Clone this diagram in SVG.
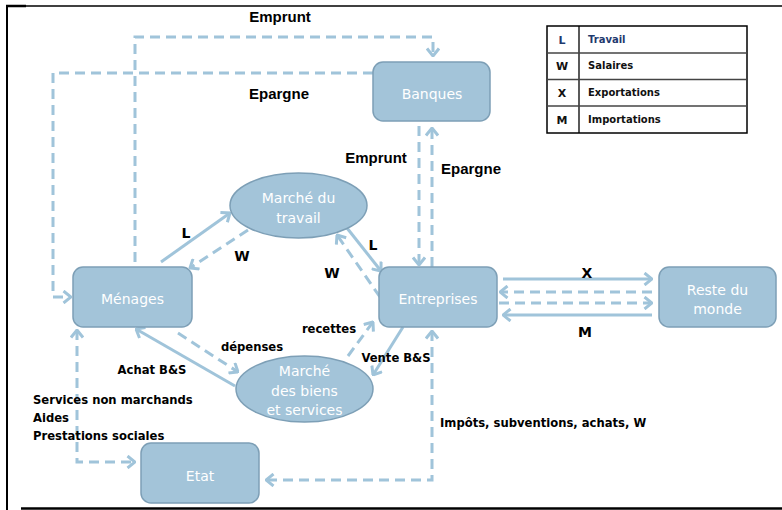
<svg xmlns="http://www.w3.org/2000/svg" width="782" height="510" viewBox="0 0 782 510">
<style>
.node{fill:#a3c4d9;stroke:#7d9fb6;stroke-width:1.5}
.nt{font-family:"DejaVu Sans",sans-serif;font-size:14px;fill:#ffffff;text-anchor:middle}
.c{fill:none;stroke:#a0c4da;stroke-width:3}
.d{stroke-dasharray:10 6}
.lbl{font-family:"DejaVu Sans",sans-serif;font-weight:bold;font-size:11.6px;fill:#000}
.big{font-family:"Liberation Sans",Arial,sans-serif;font-weight:bold;font-size:15px;fill:#000}
.ltr{font-family:"DejaVu Sans",sans-serif;font-weight:bold;font-size:14px;fill:#000}
.lg{font-family:"DejaVu Sans",sans-serif;font-weight:bold;font-size:10px;fill:#111}
</style>
<defs>
<marker id="ar" viewBox="0 0 10 14" refX="9" refY="7" markerWidth="10" markerHeight="14" markerUnits="userSpaceOnUse" orient="auto-start-reverse">
<path d="M1.5,1 L9,7 L1.5,13" fill="none" stroke="#a0c4da" stroke-width="3" stroke-dasharray="none"/>
</marker>
</defs>
<rect x="0" y="0" width="782" height="510" fill="#ffffff"/>
<g id="border" stroke="#000" fill="none">
<line x1="7" y1="6" x2="782" y2="6" stroke-width="1.5"/>
<line x1="6" y1="6" x2="26" y2="6" stroke-width="2.5"/>
<line x1="7" y1="5" x2="7" y2="510" stroke-width="2"/>
<line x1="21" y1="508.5" x2="782" y2="508.5" stroke-width="2.5"/>
</g>
<g id="connectors">
<path class="c d" d="M135,262 V37 H433 V56" marker-end="url(#ar)"/>
<path class="c d" d="M373,73 H53 V297 H71" marker-end="url(#ar)"/>
<path class="c d" d="M419,126 V265" marker-end="url(#ar)"/>
<path class="c d" d="M432,267 V128" marker-end="url(#ar)"/>
<path class="c" d="M161,262 L230,213" marker-end="url(#ar)"/>
<path class="c d" d="M248,230 L190,268" marker-end="url(#ar)"/>
<path class="c" d="M347,228 L381,271" marker-end="url(#ar)"/>
<path class="c d" d="M380,297 L337,235" marker-end="url(#ar)"/>
<path class="c" d="M503,279 H652" marker-end="url(#ar)"/>
<path class="c d" d="M652,292 H500" marker-end="url(#ar)"/>
<path class="c d" d="M499,303 H652" marker-end="url(#ar)"/>
<path class="c" d="M652,315 H503" marker-end="url(#ar)"/>
<path class="c" d="M235,386 L136,329" marker-end="url(#ar)"/>
<path class="c d" d="M178,333 L238,372" marker-end="url(#ar)"/>
<path class="c d" d="M348,356 L373,322" marker-end="url(#ar)"/>
<path class="c" d="M403,327 L373,375" marker-end="url(#ar)"/>
<path class="c d" d="M432,331 V480 H266" marker-start="url(#ar)" marker-end="url(#ar)"/>
<path class="c d" d="M77,330 V462 H135" marker-start="url(#ar)" marker-end="url(#ar)"/>
</g>
<g id="labels">
<text class="big" x="280" y="22" text-anchor="middle">Emprunt</text>
<text class="big" x="279" y="99" text-anchor="middle">Epargne</text>
<text class="big" x="376" y="163" text-anchor="middle">Emprunt</text>
<text class="big" x="471" y="174" text-anchor="middle">Epargne</text>
<text class="ltr" x="186" y="238" text-anchor="middle">L</text>
<text class="ltr" x="242" y="261" text-anchor="middle">W</text>
<text class="ltr" x="373" y="250" text-anchor="middle">L</text>
<text class="ltr" x="332" y="278" text-anchor="middle">W</text>
<text class="ltr" x="587" y="278" text-anchor="middle">X</text>
<text class="ltr" x="585" y="337" text-anchor="middle">M</text>
<text class="lbl" x="152" y="374" text-anchor="middle">Achat B&amp;S</text>
<text class="lbl" x="252" y="351" text-anchor="middle">dépenses</text>
<text class="lbl" x="329" y="333" text-anchor="middle">recettes</text>
<text class="lbl" x="396" y="362" text-anchor="middle">Vente B&amp;S</text>
<text class="lbl" x="33" y="404">Services non marchands</text>
<text class="lbl" x="33" y="422">Aides</text>
<text class="lbl" x="33" y="440">Prestations sociales</text>
<text class="lbl" x="440" y="427">Impôts, subventions, achats, W</text>
</g>
<g id="banques">
<rect class="node" x="373" y="62" width="117" height="59" rx="10"/>
<text class="nt" x="432" y="99">Banques</text>
</g>
<g id="marche-travail">
<ellipse class="node" cx="298.5" cy="205.5" rx="68.5" ry="32.5"/>
<text class="nt" x="298.5" y="203">Marché du</text>
<text class="nt" x="298.5" y="223">travail</text>
</g>
<g id="menages">
<rect class="node" x="73" y="267" width="119" height="60" rx="10"/>
<text class="nt" x="132.5" y="304">Ménages</text>
</g>
<g id="entreprises">
<rect class="node" x="379" y="267" width="118" height="60" rx="10"/>
<text class="nt" x="438" y="304">Entreprises</text>
</g>
<g id="reste-du-monde">
<rect class="node" x="659" y="267" width="117" height="60" rx="10"/>
<text class="nt" x="717.5" y="295">Reste du</text>
<text class="nt" x="717.5" y="314">monde</text>
</g>
<g id="marche-biens">
<ellipse class="node" cx="304.5" cy="389" rx="68.5" ry="33"/>
<text class="nt" x="304.5" y="376">Marché</text>
<text class="nt" x="304.5" y="396">des biens</text>
<text class="nt" x="304.5" y="415">et services</text>
</g>
<g id="etat">
<rect class="node" x="141" y="443" width="118" height="60" rx="10"/>
<text class="nt" x="200" y="481">Etat</text>
</g>
<g id="legend">
<rect x="547" y="26" width="200" height="107" fill="#fff" stroke="#000" stroke-width="1.5"/>
<line x1="579" y1="26" x2="579" y2="133" stroke="#000" stroke-width="1.3"/>
<line x1="547" y1="53" x2="747" y2="53" stroke="#444" stroke-width="1.3"/>
<line x1="547" y1="79.5" x2="747" y2="79.5" stroke="#444" stroke-width="1.3"/>
<line x1="547" y1="106" x2="747" y2="106" stroke="#444" stroke-width="1.3"/>
<text class="lg" x="562" y="44" text-anchor="middle" style="fill:#1f3a6e;font-size:11px">L</text>
<text class="lg" x="588" y="43" style="fill:#1f3a6e">Travail</text>
<text class="lg" x="562" y="70" text-anchor="middle" style="font-size:11px">W</text>
<text class="lg" x="588" y="69">Salaires</text>
<text class="lg" x="562" y="97" text-anchor="middle" style="font-size:11px">X</text>
<text class="lg" x="588" y="96">Exportations</text>
<text class="lg" x="562" y="124" text-anchor="middle" style="font-size:11px">M</text>
<text class="lg" x="588" y="123">Importations</text>
</g>
</svg>
